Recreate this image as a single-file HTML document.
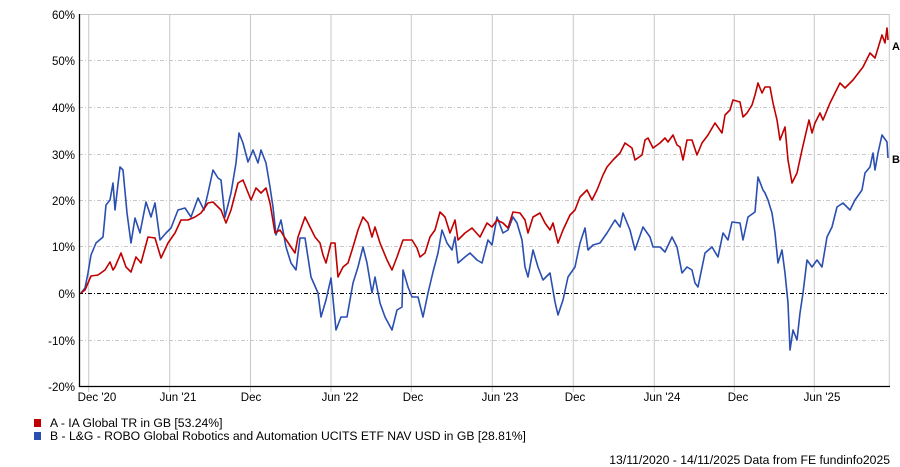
<!DOCTYPE html>
<html><head><meta charset="utf-8"><style>
body{margin:0;background:#fff;}
svg{display:block;font-family:"Liberation Sans",Arial,sans-serif;}
</style></head><body>
<svg width="900" height="467" viewBox="0 0 900 467" xmlns="http://www.w3.org/2000/svg">
<rect width="900" height="467" fill="#fff"/>
<g stroke="#c8c8c8" stroke-width="1">
<line x1="79" y1="14.5" x2="889" y2="14.5"/>
<line x1="88.7" y1="14" x2="88.7" y2="392"/>
<line x1="169.7" y1="14" x2="169.7" y2="392"/>
<line x1="250.5" y1="14" x2="250.5" y2="392"/>
<line x1="331" y1="14" x2="331" y2="392"/>
<line x1="411.3" y1="14" x2="411.3" y2="392"/>
<line x1="492.3" y1="14" x2="492.3" y2="392"/>
<line x1="573.3" y1="14" x2="573.3" y2="392"/>
<line x1="654.3" y1="14" x2="654.3" y2="392"/>
<line x1="734.3" y1="14" x2="734.3" y2="392"/>
<line x1="814.3" y1="14" x2="814.3" y2="392"/>
<line x1="889.3" y1="14" x2="889.3" y2="387"/>
</g>
<g stroke="#c8c8c8" stroke-width="1" stroke-dasharray="4,2,1,2">
<line x1="79" y1="60.5" x2="889" y2="60.5"/>
<line x1="79" y1="107.5" x2="889" y2="107.5"/>
<line x1="79" y1="154.5" x2="889" y2="154.5"/>
<line x1="79" y1="200.5" x2="889" y2="200.5"/>
<line x1="79" y1="246.5" x2="889" y2="246.5"/>
<line x1="79" y1="340.5" x2="889" y2="340.5"/>
</g>
<line x1="79" y1="293.5" x2="889" y2="293.5" stroke="#000" stroke-width="1" stroke-dasharray="4,2,1,2"/>
<line x1="79.5" y1="14" x2="79.5" y2="387" stroke="#000" stroke-width="1.3"/>
<line x1="79" y1="386.5" x2="890" y2="386.5" stroke="#000" stroke-width="1.3"/>
<g font-size="11.5" fill="#000" text-anchor="end">
<text x="75" y="19">60%</text><text x="75" y="65">50%</text><text x="75" y="112">40%</text>
<text x="75" y="159">30%</text><text x="75" y="205">20%</text><text x="75" y="251">10%</text>
<text x="75" y="298">0%</text><text x="75" y="345">-10%</text><text x="75" y="391">-20%</text>
</g>
<g font-size="11.5" fill="#000" text-anchor="middle">
<text x="97" y="401">Dec '20</text><text x="178" y="401">Jun '21</text><text x="251" y="401">Dec</text>
<text x="340" y="401">Jun '22</text><text x="413" y="401">Dec</text><text x="500" y="401">Jun '23</text>
<text x="575" y="401">Dec</text><text x="662" y="401">Jun '24</text><text x="738" y="401">Dec</text>
<text x="822" y="401">Jun '25</text>
</g>
<polyline fill="none" stroke="#2a4fb0" stroke-width="1.6" stroke-linejoin="round" points="81,293 85,288 88,273 91,255 96,243 103,237 106,205 110,200 113,183 115,210 120,167 123,170 127,213 131,243 135,218 140,233 146,202 151,217 155,203 160,240 166,233 171,228 178,210 185,208 191,217 198,198 204,210 208,193 213,170 218,178 221,180 225,217 231,193 236,163 239,133 243,143 248,162 253,150 258,163 261,150 266,163 270,187 273,207 276,235 281,220 286,247 291,263 296,270 300,238 305,238 311,277 318,293 321,317 326,300 331,278 336,330 341,317 347,317 350,300 353,283 358,267 363,247 367,263 372,293 375,277 380,303 385,317 392,330 397,310 402,307 403,270 408,287 412,297 418,297 423,317 428,293 433,272 438,253 442,230 447,243 452,250 455,237 458,263 465,257 470,253 477,260 482,263 488,240 492,245 497,217 503,233 508,230 513,217 517,223 522,240 525,267 528,277 533,250 538,267 543,280 550,273 555,302 558,315 563,300 568,277 575,267 580,243 585,228 588,250 593,245 600,243 607,233 615,220 620,227 623,213 630,230 635,250 643,227 650,237 653,247 660,247 665,252 672,237 677,247 682,273 687,267 692,270 695,283 698,287 705,253 712,247 718,257 723,233 728,240 732,222 740,223 743,240 748,217 755,212 758,177 763,190 765,193 768,200 772,213 775,233 778,263 782,250 785,273 788,303 790,350 793,330 797,340 800,313 803,293 807,260 812,267 817,260 822,267 827,237 832,227 837,207 843,203 850,210 855,200 862,190 865,173 870,167 873,153 875,170 878,153 882,135 887,142 888,158"/>
<polyline fill="none" stroke="#c00000" stroke-width="1.6" stroke-linejoin="round" points="81,293 85,290 91,276 98,275 105,270 110,262 113,270 115,267 121,253 126,267 131,272 136,257 141,263 148,237 155,238 161,258 168,243 175,233 181,220 188,220 195,217 201,213 208,203 213,202 221,210 226,223 231,210 238,183 243,180 251,200 256,188 261,193 266,188 270,203 275,233 280,230 285,238 291,247 295,253 298,237 305,217 310,227 315,237 320,243 323,255 326,263 331,243 335,243 338,277 343,267 348,263 353,247 358,230 363,217 368,223 372,237 375,227 380,243 387,260 392,270 397,257 403,240 412,240 417,248 420,257 425,253 430,237 435,230 440,212 445,217 450,233 455,220 458,240 465,233 472,228 480,237 487,223 492,227 497,220 503,223 508,228 513,212 520,213 525,220 528,233 533,217 540,213 545,223 550,230 553,223 558,243 563,230 570,215 575,210 580,197 587,190 592,200 597,190 603,175 607,167 613,160 620,153 625,143 632,148 635,160 642,155 645,140 648,138 653,148 660,143 665,138 668,142 673,135 677,145 680,147 683,160 687,140 692,140 697,155 702,143 708,135 715,123 722,133 725,115 730,110 733,100 740,102 743,117 747,113 752,105 755,95 758,83 762,93 765,87 770,87 773,103 777,120 780,140 785,127 788,160 792,183 797,173 802,150 805,137 809,120 812,133 815,123 820,113 823,120 830,103 840,83 845,88 853,80 863,67 870,53 875,58 882,35 885,43 887,28 888,40"/>
<text x="892" y="50" font-size="11" font-weight="bold">A</text>
<text x="892" y="163" font-size="11" font-weight="bold">B</text>
<rect x="34" y="419" width="7" height="8" fill="#c00000"/>
<rect x="34" y="432" width="7" height="8" fill="#2a4fb0"/>
<g font-size="12.2" fill="#000">
<text x="50" y="427">A - IA Global TR in GB [53.24%]</text>
<text x="50" y="440">B - L&amp;G - ROBO Global Robotics and Automation UCITS ETF NAV USD in GB [28.81%]</text>
<text x="890" y="464" text-anchor="end">13/11/2020 - 14/11/2025 Data from FE fundinfo2025</text>
</g>
</svg>
</body></html>
